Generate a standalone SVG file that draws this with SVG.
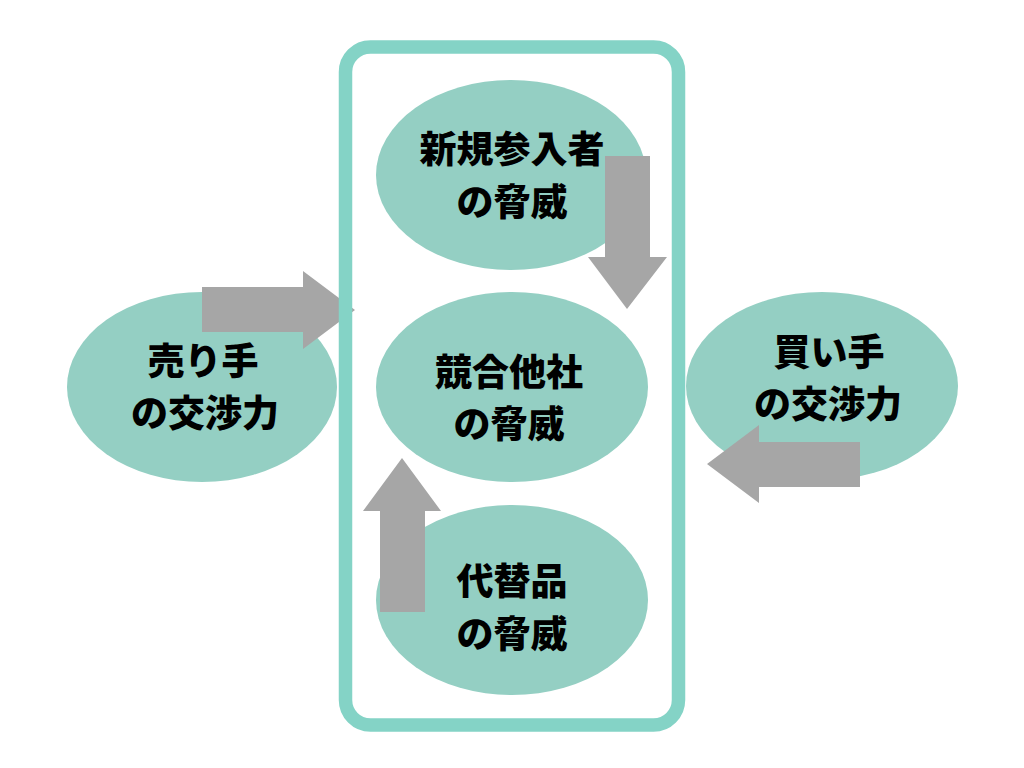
<svg xmlns="http://www.w3.org/2000/svg" width="1024" height="768" viewBox="0 0 1024 768">
<style>
.node ellipse{fill:#94cfc3}
.node text{font-family:"Noto Sans CJK JP","Noto Sans CJK SC",sans-serif;font-weight:900;font-size:37px;fill:#000;text-anchor:middle}
.arrow{fill:#a6a6a6}
.frame{fill:none;stroke:#84d3c6;stroke-width:13.5}
</style>
<rect width="1024" height="768" fill="#fff"/>
<g id="node-entrants" class="node">
<ellipse cx="511" cy="175" rx="135" ry="95"/>
<text x="512" y="163">新規参入者</text>
<text x="512" y="216">の脅威</text>
</g>
<g id="node-rivals" class="node">
<ellipse cx="512" cy="387" rx="136" ry="95"/>
<text x="509" y="386">競合他社</text>
<text x="509" y="438">の脅威</text>
</g>
<g id="node-substitutes" class="node">
<ellipse cx="512" cy="600" rx="136" ry="95"/>
<text x="512" y="595">代替品</text>
<text x="512" y="648">の脅威</text>
</g>
<g id="node-suppliers" class="node">
<ellipse cx="202" cy="387" rx="135" ry="95"/>
<text x="203" y="375">売り手</text>
<text x="205" y="427">の交渉力</text>
</g>
<g id="node-buyers" class="node">
<ellipse cx="822" cy="386" rx="136" ry="94"/>
<text x="829" y="366">買い手</text>
<text x="828" y="418">の交渉力</text>
</g>
<g id="connectors">
<polygon class="arrow" points="202,287 303,287 303,271 355,310 303,349 303,332 202,332"/>
<polygon class="arrow" points="605,156 650,156 650,257 667,257 627,309 588,257 605,257"/>
<polygon class="arrow" points="380,612 425,612 425,511 441,511 402,458 363,511 380,511"/>
<polygon class="arrow" points="860,442 759,442 759,425 707,464 759,503 759,487 860,487"/>
</g>
<g id="frame">
<rect class="frame" x="345.5" y="47" width="333" height="678" rx="25" ry="25"/>
</g>
</svg>
